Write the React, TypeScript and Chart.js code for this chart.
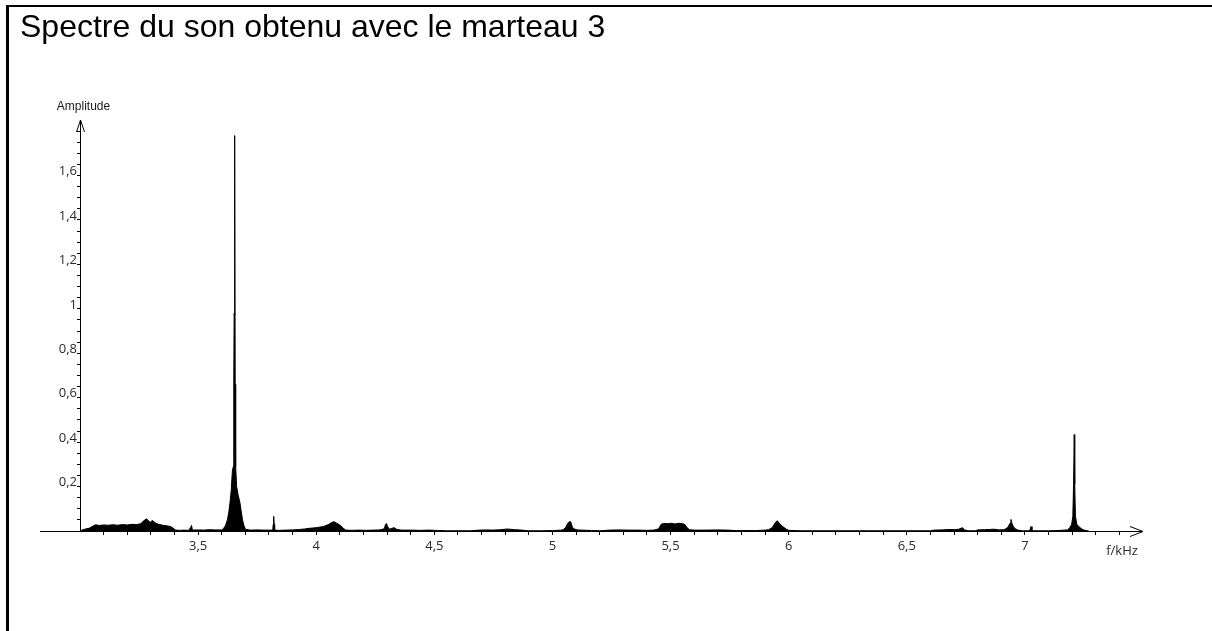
import React, { useEffect, useRef } from "react";
import { Chart, registerables } from "chart.js";

Chart.register(...registerables);

// ---------- text ----------
const TITLE = "Spectre du son obtenu avec le marteau 3";
const Y_AXIS_LABEL = "Amplitude";
const X_AXIS_LABEL = "f/kHz";

// ---------- axes ----------
const X_MIN = 3.0;
const X_MAX = 7.5;
const Y_MIN = 0;
const Y_MAX = 1.85;
const X_MAJOR_TICKS = [3.5, 4, 4.5, 5, 5.5, 6, 6.5, 7];
const Y_MAJOR_TICKS = [0.2, 0.4, 0.6, 0.8, 1, 1.2, 1.4, 1.6];
const X_MINOR_STEP = 0.1;
const Y_MINOR_STEP = 0.05;

// ---------- spectrum (f in kHz, amplitude) ----------
const LOW_BAND: [number, number][] = [
  [3.0, 0.0], [3.01, 0.005], [3.02, 0.008], [3.04, 0.013], [3.055, 0.022], [3.066, 0.028],
  [3.08, 0.025], [3.1, 0.027], [3.12, 0.026], [3.14, 0.028], [3.16, 0.026], [3.18, 0.029],
  [3.2, 0.027], [3.22, 0.03], [3.24, 0.029], [3.257, 0.033], [3.27, 0.046], [3.282, 0.055],
  [3.29, 0.045], [3.298, 0.039], [3.306, 0.048], [3.315, 0.039], [3.33, 0.031], [3.35, 0.026],
  [3.37, 0.023], [3.384, 0.02], [3.395, 0.012], [3.405, 0.004], [3.42, 0.003], [3.44, 0.004],
  [3.46, 0.003], [3.468, 0.015], [3.472, 0.025], [3.476, 0.004], [3.5, 0.005], [3.52, 0.004],
  [3.55, 0.006], [3.57, 0.005], [3.59, 0.005],
];

const MAIN_PEAK: [number, number][] = [
  [3.6, 0.005], [3.607, 0.01], [3.616, 0.025], [3.624, 0.05], [3.63, 0.085], [3.635, 0.128],
  [3.64, 0.18], [3.645, 0.27], [3.649, 0.29], [3.651, 0.67], [3.6525, 0.98], [3.654, 0.97],
  [3.6555, 1.78], [3.657, 0.66], [3.659, 0.29], [3.663, 0.2], [3.67, 0.16], [3.677, 0.128],
  [3.683, 0.085], [3.688, 0.05], [3.694, 0.025], [3.7, 0.008],
];

const MID_BAND: [number, number][] = [
  [3.72, 0.004], [3.75, 0.005], [3.78, 0.004], [3.8, 0.004], [3.816, 0.004], [3.818, 0.03],
  [3.82, 0.066], [3.822, 0.03], [3.824, 0.004], [3.84, 0.003], [3.87, 0.004], [3.9, 0.005],
  [3.93, 0.007], [3.95, 0.009], [3.97, 0.012], [4.0, 0.015], [4.03, 0.02], [4.05, 0.028],
  [4.065, 0.038], [4.075, 0.042], [4.085, 0.036], [4.095, 0.03], [4.105, 0.022], [4.115, 0.012],
  [4.125, 0.004], [4.15, 0.003], [4.18, 0.004], [4.21, 0.003], [4.24, 0.004], [4.27, 0.005],
  [4.288, 0.01], [4.293, 0.028], [4.297, 0.034], [4.302, 0.02], [4.31, 0.008], [4.32, 0.012],
  [4.33, 0.015], [4.34, 0.008], [4.36, 0.004], [4.4, 0.004], [4.44, 0.003], [4.48, 0.004],
  [4.5, 0.003], [4.55, 0.001], [4.6, 0.001], [4.65, 0.001], [4.69, 0.004], [4.72, 0.005],
  [4.75, 0.004], [4.78, 0.006], [4.81, 0.009], [4.84, 0.006], [4.87, 0.004], [4.9, 0.001],
  [4.95, 0.001], [5.0, 0.002],
];

const HIGH_BAND: [number, number][] = [
  [5.04, 0.004], [5.045, 0.006], [5.055, 0.015], [5.065, 0.035], [5.072, 0.043], [5.078, 0.04],
  [5.085, 0.015], [5.095, 0.008], [5.105, 0.005], [5.12, 0.004], [5.15, 0.003], [5.2, 0.001],
  [5.24, 0.004], [5.28, 0.005], [5.32, 0.004], [5.36, 0.004], [5.4, 0.003], [5.43, 0.004],
  [5.45, 0.01], [5.46, 0.03], [5.47, 0.034], [5.49, 0.033], [5.5, 0.035], [5.52, 0.032],
  [5.535, 0.035], [5.55, 0.033], [5.56, 0.03], [5.57, 0.015], [5.58, 0.006], [5.6, 0.004],
  [5.65, 0.004], [5.7, 0.005], [5.74, 0.004], [5.78, 0.002], [5.82, 0.002], [5.86, 0.002],
  [5.9, 0.004], [5.915, 0.006], [5.93, 0.015], [5.945, 0.04], [5.952, 0.046], [5.96, 0.035],
  [5.975, 0.02], [5.99, 0.008], [6.0, 0.003], [6.05, 0.001],
];

const TOP_BAND: [number, number][] = [
  [6.1, 0.001], [6.2, 0.001], [6.3, 0.001], [6.4, 0.001], [6.5, 0.001], [6.6, 0.001],
  [6.615, 0.004], [6.65, 0.005], [6.68, 0.007], [6.7, 0.006], [6.72, 0.008], [6.735, 0.015],
  [6.745, 0.005], [6.76, 0.001], [6.79, 0.001], [6.8, 0.005], [6.83, 0.006], [6.85, 0.007],
  [6.87, 0.008], [6.89, 0.005], [6.91, 0.006], [6.92, 0.01], [6.93, 0.02], [6.937, 0.035],
  [6.941, 0.052], [6.945, 0.035], [6.952, 0.018], [6.96, 0.01], [6.97, 0.004], [6.99, 0.001],
  [7.02, 0.001], [7.026, 0.02], [7.03, 0.001], [7.06, 0.001], [7.1, 0.001], [7.14, 0.002],
  [7.18, 0.005], [7.19, 0.015], [7.198, 0.03], [7.203, 0.066], [7.206, 0.21], [7.209, 0.434],
  [7.211, 0.21], [7.214, 0.066], [7.22, 0.03], [7.23, 0.018], [7.24, 0.01], [7.25, 0.004],
  [7.27, 0.0],
];

const SPECTRUM = [...LOW_BAND, ...MAIN_PEAK, ...MID_BAND, ...HIGH_BAND, ...TOP_BAND];

const TICK_FONT = "'Open Sans', 'Noto Sans', sans-serif";
const isMajor = (v: number, list: number[]) => list.some((m) => Math.abs(m - v) < 1e-6);
const fmt = (v: number) => String(Math.round(v * 100) / 100).replace(".", ",");

const minorTicks = (min: number, max: number, step: number) => {
  const out: { value: number }[] = [];
  const n = Math.round((max - min) / step);
  for (let i = 1; i < n; i++) out.push({ value: Math.round((min + i * step) * 1000) / 1000 });
  return out;
};

const axisDecor = {
  id: "axisDecor",
  afterDatasetsDraw(chart: any) {
    const { ctx, scales } = chart;
    const xs = scales.x;
    const ys = scales.y;
    const xl = Math.floor(xs.getPixelForValue(X_MIN)) + 0.5;
    const xe = xs.getPixelForValue(X_MAX);
    const yl = Math.floor(ys.getPixelForValue(0)) + 0.5;
    const yt = ys.getPixelForValue(Y_MAX);
    ctx.save();
    ctx.strokeStyle = "#000";
    ctx.lineWidth = 1;
    ctx.beginPath();
    ctx.moveTo(40, yl);
    ctx.lineTo(xe, yl);
    ctx.moveTo(xe - 13, yl - 5);
    ctx.lineTo(xe, yl);
    ctx.lineTo(xe - 13, yl + 5);
    ctx.moveTo(xl, yl);
    ctx.lineTo(xl, yt);
    ctx.moveTo(xl - 4, yt + 12);
    ctx.lineTo(xl, yt);
    ctx.lineTo(xl + 4, yt + 12);
    ctx.stroke();

    ctx.fillStyle = "#1a1a1a";
    ctx.textAlign = "center";
    ctx.textBaseline = "middle";
    ctx.font = "12px 'Liberation Sans', Arial, sans-serif";
    ctx.fillText(Y_AXIS_LABEL, xl + 3, yt - 13);
    ctx.fillStyle = "#2a2a2a";
    ctx.font = `13px ${TICK_FONT}`;
    ctx.fillText(X_AXIS_LABEL, xe - 21, yl + 20);
    ctx.restore();
  },
};

export default function App() {
  const ref = useRef<HTMLCanvasElement>(null);

  useEffect(() => {
    if (!ref.current) return;
    const chart = new Chart(ref.current, {
      type: "line",
      data: {
        datasets: [
          {
            data: SPECTRUM.map(([f, a]) => ({ x: f, y: a })),
            borderColor: "#000",
            backgroundColor: "#000",
            borderWidth: 1,
            fill: "origin",
            pointRadius: 0,
            tension: 0,
          },
        ],
      },
      options: {
        responsive: false,
        animation: false,
        events: [],
        layout: { padding: { left: 30, right: 69, top: 120, bottom: 70 } },
        plugins: { legend: { display: false }, tooltip: { enabled: false }, title: { display: false } },
        scales: {
          x: {
            type: "linear",
            min: X_MIN,
            max: X_MAX,
            afterFit: (s: any) => {
              s.height = 30;
            },
            afterBuildTicks: (s: any) => {
              s.ticks = minorTicks(X_MIN, X_MAX, X_MINOR_STEP);
            },
            grid: { display: true, drawOnChartArea: false, drawTicks: true, tickLength: 4, color: "#000", tickColor: "#000" },
            border: { display: false },
            ticks: {
              autoSkip: false,
              maxRotation: 0,
              padding: 3,
              color: "#2a2a2a",
              font: { family: TICK_FONT, size: 13 },
              callback: (v: any) => (isMajor(Number(v), X_MAJOR_TICKS) ? fmt(Number(v)) : ""),
            },
          },
          y: {
            type: "linear",
            min: Y_MIN,
            max: Y_MAX,
            afterFit: (s: any) => {
              s.width = 50;
            },
            afterBuildTicks: (s: any) => {
              s.ticks = minorTicks(Y_MIN, Y_MAX, Y_MINOR_STEP);
            },
            grid: { display: true, drawOnChartArea: false, drawTicks: true, tickLength: 3, color: "#000", tickColor: "#000" },
            border: { display: false },
            ticks: {
              autoSkip: false,
              padding: 0,
              labelOffset: -4,
              color: "#2a2a2a",
              font: { family: TICK_FONT, size: 13 },
              callback: (v: any) => (isMajor(Number(v), Y_MAJOR_TICKS) ? fmt(Number(v)) : ""),
            },
          },
        },
      },
      plugins: [axisDecor],
    });
    return () => chart.destroy();
  }, []);

  return (
    <div style={{ position: "fixed", left: 0, top: 0, right: 0, bottom: 0, background: "#fff", overflow: "hidden" }}>
      <canvas ref={ref} width={1212} height={631} style={{ position: "absolute", left: 0, top: 0 }} />
      <div style={{ position: "absolute", left: 6, top: 5, right: -20, height: 2, background: "#000" }} />
      <div style={{ position: "absolute", left: 6, top: 5, width: 3, bottom: -20, background: "#000" }} />
      <div
        style={{
          position: "absolute",
          left: 20,
          top: 10,
          font: "32px 'Liberation Sans', Arial, sans-serif",
          lineHeight: "32px",
          color: "#000",
          whiteSpace: "nowrap",
        }}
      >
        {TITLE}
      </div>
    </div>
  );
}
